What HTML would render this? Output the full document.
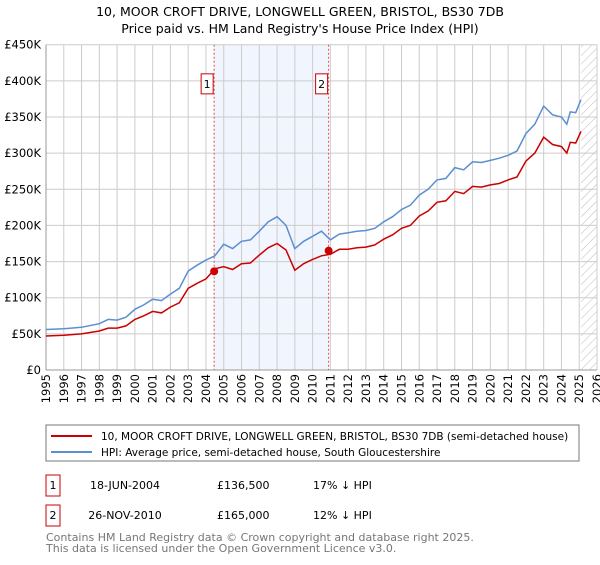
<!DOCTYPE html>
<html><head><meta charset="utf-8"><style>
body{margin:0;background:#fff;font-family:"Liberation Sans","DejaVu Sans",sans-serif;}
svg text{font-family:"DejaVu Sans","Liberation Sans",sans-serif;}
</style></head><body>
<svg id="c" width="600" height="560" xmlns="http://www.w3.org/2000/svg">
<defs><pattern id="hatch" width="6" height="6" patternUnits="userSpaceOnUse" patternTransform="rotate(45)"><line x1="0" y1="0" x2="0" y2="6" stroke="#bbb" stroke-width="1"/></pattern></defs>
<text x="300" y="16" text-anchor="middle" font-size="12.5">10, MOOR CROFT DRIVE, LONGWELL GREEN, BRISTOL, BS30 7DB</text>
<text x="300" y="33" text-anchor="middle" font-size="12.5">Price paid vs. HM Land Registry's House Price Index (HPI)</text>
<g id="plot"></g>
<rect x="46" y="425" width="533" height="36" fill="#fff" stroke="#777"/>
<line x1="51" y1="436" x2="92" y2="436" stroke="#cc0000" stroke-width="2"/>
<text x="101" y="440" font-size="10.5">10, MOOR CROFT DRIVE, LONGWELL GREEN, BRISTOL, BS30 7DB (semi-detached house)</text>
<line x1="51" y1="452" x2="92" y2="452" stroke="#5b8fd0" stroke-width="2"/>
<text x="101" y="456" font-size="10.5">HPI: Average price, semi-detached house, South Gloucestershire</text>
<g font-size="11">
<rect x="46" y="475" width="14" height="21" fill="#fff" stroke="#cc0000"/>
<text x="53" y="489" text-anchor="middle">1</text>
<text x="125" y="489" text-anchor="middle">18-JUN-2004</text>
<text x="217" y="489">£136,500</text>
<text x="313" y="489">17% ↓ HPI</text>
<rect x="46" y="505" width="14" height="21" fill="#fff" stroke="#cc0000"/>
<text x="53" y="519" text-anchor="middle">2</text>
<text x="125" y="519" text-anchor="middle">26-NOV-2010</text>
<text x="217" y="519">£165,000</text>
<text x="313" y="519">12% ↓ HPI</text>
</g>
<text x="46" y="541" font-size="11" fill="#777">Contains HM Land Registry data © Crown copyright and database right 2025.</text>
<text x="46" y="552" font-size="11" fill="#777">This data is licensed under the Open Government Licence v3.0.</text>
</svg>
<script>
const years=[1995,1996,1997,1998,1998.5,1999,1999.5,2000,2000.5,2001,2001.5,2002,2002.5,2003,2003.5,2004,2004.5,2005,2005.5,2006,2006.5,2007,2007.5,2008,2008.5,2009,2009.5,2010,2010.5,2011,2011.5,2012,2012.5,2013,2013.5,2014,2014.5,2015,2015.5,2016,2016.5,2017,2017.5,2018,2018.5,2019,2019.5,2020,2020.5,2021,2021.5,2022,2022.5,2023,2023.5,2024,2024.3,2024.5,2024.8,2025.1];
const hpi=[56,57,59,64,70,69,73,84,90,98,96,105,113,137,145,152,158,174,168,178,180,192,205,212,200,168,178,185,192,180,188,190,192,193,196,205,212,222,228,242,250,263,265,280,277,288,287,290,293,297,303,327,340,365,353,350,340,357,356,374];
const price=[47,48,50,54,58,58,61,70,75,81,79,87,93,113,120,126,140,143,139,147,148,159,169,175,166,138,147,153,158,160,167,167,169,170,173,181,187,196,200,213,220,232,234,247,244,254,253,256,258,263,267,289,300,322,312,309,300,315,314,330];
const sales=[{t:2004.46,v:136.5,label:"1"},{t:2010.9,v:165,label:"2"}];
const yTicks=[0,50,100,150,200,250,300,350,400,450];
const yLabels=["£0","£50K","£100K","£150K","£200K","£250K","£300K","£350K","£400K","£450K"];
const xTicks=[1995,1996,1997,1998,1999,2000,2001,2002,2003,2004,2005,2006,2007,2008,2009,2010,2011,2012,2013,2014,2015,2016,2017,2018,2019,2020,2021,2022,2023,2024,2025,2026];
const X0=46,X1=597,Y0=370,Y1=44.7;
const x=t=>X0+(t-1995)/(2026-1995)*(X1-X0);
const y=v=>Y0-v/450*(Y0-Y1);
const g=document.getElementById('plot');const NS="http://www.w3.org/2000/svg";
function mk(tag,at,txt){const e=document.createElementNS(NS,tag);for(const k in at)e.setAttribute(k,at[k]);if(txt!==undefined)e.textContent=txt;g.appendChild(e);return e;}
let e=mk('rect',{x:x(sales[0].t),y:Y1,width:x(sales[1].t)-x(sales[0].t),height:Y0-Y1,fill:'#eef3fc',opacity:0.8});


e=mk('rect',{x:x(2025.1),y:Y1,width:X1-x(2025.1),height:Y0-Y1,fill:'url(#hatch)'});


yTicks.forEach((v,i)=>{
 e=mk('line',{x1:X0,x2:X1,y1:y(v),y2:y(v),stroke:'#ccc'});
 
 
 e=mk('text',{x:X0-5,y:y(v)+4,'text-anchor':'end','font-size':11.5},yLabels[i]);
 
 
});
xTicks.forEach(t=>{
 e=mk('line',{x1:x(t),x2:x(t),y1:Y1,y2:Y0,stroke:'#ccc'});
 
 
 e=mk('text',{x:0,y:0,'font-size':11.5,'text-anchor':'end',transform:`translate(${x(t)+4},${Y0+4}) rotate(-90)`},String(t));
 
 
});
e=mk('line',{x1:X0,x2:X0,y1:Y1,y2:Y0,stroke:'#999'});


e=mk('line',{x1:X0,x2:X1,y1:Y0,y2:Y0,stroke:'#999'});


sales.forEach(s=>{
 e=mk('line',{x1:x(s.t),x2:x(s.t),y1:Y1,y2:Y0,stroke:'#e05050','stroke-dasharray':'2,2'});
 
 
});
const pts=a=>years.map((t,i)=>x(t).toFixed(1)+','+y(a[i]).toFixed(1)).join(' ');
e=mk('polyline',{points:pts(hpi),fill:'none',stroke:'#5b8fd0','stroke-width':1.5});


e=mk('polyline',{points:pts(price),fill:'none',stroke:'#cc0000','stroke-width':1.5});


sales.forEach(s=>{
 e=mk('circle',{cx:x(s.t),cy:y(s.v),r:4,fill:'#cc0000'});
 
 
 e=mk('rect',{x:x(s.t)-13,y:y(400)-7,width:12,height:20,fill:'#fff',stroke:'#cc0000'});
 
 
 e=mk('text',{x:x(s.t)-7,y:y(400)+7,'text-anchor':'middle','font-size':11},s.label);
 
 
});
</script>
</body></html>
